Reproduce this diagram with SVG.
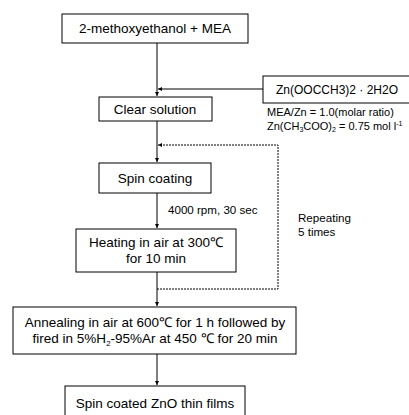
<svg xmlns="http://www.w3.org/2000/svg" width="409" height="415" viewBox="0 0 409 415">
<style>
.box{fill:#fff;stroke:#000;stroke-width:1}
text{font-family:"Liberation Sans",Arial,sans-serif;font-size:13.5px;fill:#000}
.c{text-anchor:middle}
.ln{fill:none;stroke:#000;stroke-width:1}
.dot{fill:none;stroke:#000;stroke-width:1;stroke-dasharray:2 1}
.sm{font-size:11.6px}
.zn{font-size:12px}
.nt{font-size:11px}
</style>
<defs>
<marker id="ah" markerWidth="4" markerHeight="4" refX="4" refY="2" orient="auto" markerUnits="userSpaceOnUse">
<path d="M0,0 L4,2 L0,4 Z" fill="#000"/>
</marker>
</defs>
<rect width="409" height="415" fill="#fff"/>
<g id="connectors">
<line class="ln" x1="157" y1="43" x2="157" y2="96" marker-end="url(#ah)"/>
<line class="ln" x1="263" y1="89" x2="158" y2="89" marker-end="url(#ah)"/>
<line class="ln" x1="157" y1="121" x2="157" y2="162" marker-end="url(#ah)"/>
<polyline class="dot" points="157,289 278,289 278,145 158,145"/>
<path d="M162,143 L158,145 L162,147 Z" fill="#000"/>
<line class="ln" x1="157" y1="193" x2="157" y2="228" marker-end="url(#ah)"/>
<line class="ln" x1="157" y1="272" x2="157" y2="306" marker-end="url(#ah)"/>
<line class="ln" x1="157" y1="354" x2="157" y2="385" marker-end="url(#ah)"/>
</g>
<g id="n1"><rect class="box" x="62" y="14" width="186" height="29"/><text class="c" x="155" y="33">2-methoxyethanol + MEA</text></g>
<g id="n2"><rect class="box" x="263" y="76" width="150" height="27"/><text class="c zn" x="337" y="94">Zn(OOCCH3)2 · 2H2O</text></g>
<g id="note"><text class="nt" x="267" y="116">MEA/Zn = 1.0(molar ratio)</text><text class="nt" x="267" y="130">Zn(CH<tspan font-size="7" dy="2">3</tspan><tspan dy="-2">COO)</tspan><tspan font-size="7" dy="2">2</tspan><tspan dy="-2"> = 0.75 mol l</tspan><tspan font-size="7" dy="-4">-1</tspan></text></g>
<g id="n3"><rect class="box" x="99" y="97" width="113" height="24"/><text class="c" x="155" y="114">Clear solution</text></g>
<g id="n4"><rect class="box" x="99" y="163" width="112" height="30"/><text class="c" x="155" y="183">Spin coating</text></g>
<text class="sm" x="168" y="214">4000 rpm, 30 sec</text>
<text class="sm" x="298" y="222">Repeating</text>
<text class="sm" x="298" y="236">5 times</text>
<g id="n5"><rect class="box" x="76" y="229" width="160" height="43"/><text class="c" x="156" y="247">Heating in air at 300℃</text><text class="c" x="156" y="263">for 10 min</text></g>
<g id="n6"><rect class="box" x="13" y="307" width="283" height="47"/><text class="c" x="155" y="327">Annealing in air at 600℃ for 1 h followed by</text><text class="c" x="155" y="343">fired in 5%H<tspan font-size="8" dy="3">2</tspan><tspan dy="-3">-95%Ar at 450 ℃ for 20 min</tspan></text></g>
<g id="n7"><rect class="box" x="65" y="386" width="180" height="35"/><text class="c" x="155" y="408">Spin coated ZnO thin films</text></g>
</svg>
